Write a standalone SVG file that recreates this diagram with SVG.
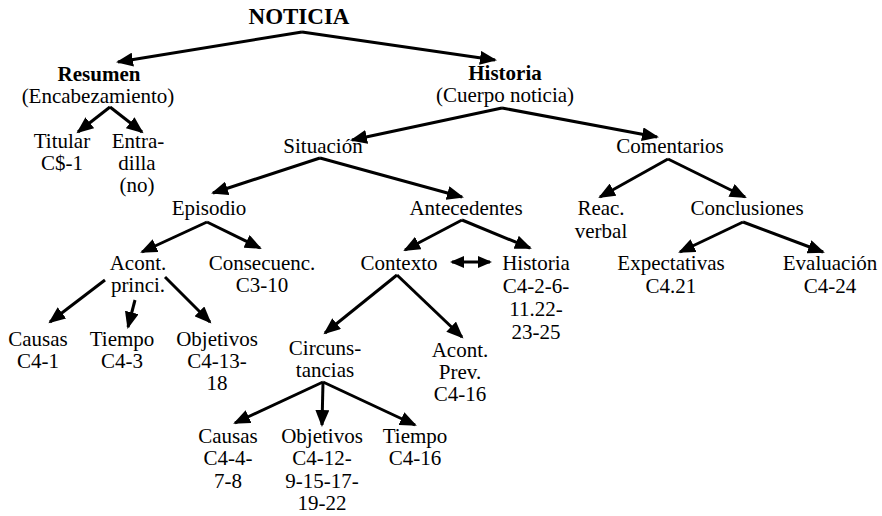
<svg xmlns="http://www.w3.org/2000/svg" width="882" height="516" viewBox="0 0 882 516" font-family="Liberation Serif">
<style>
.n{font-family:'Liberation Serif';font-size:21px;fill:#000;text-anchor:middle}
.b{font-weight:bold}
.t{font-size:23px}
.c line{stroke:#000;stroke-width:3;marker-end:url(#ah)}
.c line.d{marker-start:url(#ah2);marker-end:url(#ah2)}
</style>
<defs>
<marker id="ah" markerUnits="userSpaceOnUse" markerWidth="18" markerHeight="14" refX="15" refY="7" orient="auto-start-reverse" viewBox="0 0 18 14">
<path d="M0,0 L17,7 L0,14 z" fill="#000"/>
</marker>
<marker id="ah2" markerUnits="userSpaceOnUse" markerWidth="14" markerHeight="12" refX="12" refY="6" orient="auto-start-reverse" viewBox="0 0 14 12">
<path d="M0,0 L14,6 L0,12 z" fill="#000"/>
</marker>
</defs>
<rect width="882" height="516" fill="#fff"/>
<g id="connectors" class="c">
<line x1="302" y1="32" x2="118" y2="62"/>
<line x1="302" y1="32" x2="495" y2="60"/>
<line x1="110" y1="107" x2="78" y2="132"/>
<line x1="110" y1="107" x2="142" y2="132"/>
<line x1="502" y1="108" x2="352" y2="140"/>
<line x1="502" y1="108" x2="657" y2="137"/>
<line x1="320" y1="158" x2="213" y2="193"/>
<line x1="320" y1="158" x2="462" y2="197"/>
<line x1="668" y1="159" x2="600" y2="197"/>
<line x1="668" y1="159" x2="745" y2="197"/>
<line x1="207" y1="222" x2="142" y2="252"/>
<line x1="207" y1="222" x2="260" y2="248"/>
<line x1="462" y1="220" x2="405" y2="250"/>
<line x1="462" y1="220" x2="530" y2="248"/>
<line x1="743" y1="222" x2="680" y2="252"/>
<line x1="743" y1="222" x2="823" y2="252"/>
<line class="d" x1="452" y1="262" x2="490" y2="262"/>
<line x1="105" y1="280" x2="50" y2="322"/>
<line x1="135" y1="300" x2="128" y2="327"/>
<line x1="165" y1="277" x2="210" y2="322"/>
<line x1="397" y1="275" x2="325" y2="333"/>
<line x1="397" y1="275" x2="462" y2="337"/>
<line x1="323" y1="382" x2="235" y2="423"/>
<line x1="323" y1="382" x2="322" y2="425"/>
<line x1="323" y1="382" x2="415" y2="425"/>
</g>
<g id="noticia"><text class="n b t" x="299" y="24">NOTICIA</text></g>
<g id="resumen"><text class="n b" x="99" y="81">Resumen</text><text class="n" x="98" y="103">(Encabezamiento)</text></g>
<g id="historia"><text class="n b" x="505" y="80">Historia</text><text class="n" x="505" y="102">(Cuerpo noticia)</text></g>
<g id="titular"><text class="n" x="62" y="148">Titular</text><text class="n" x="62" y="170">C$-1</text></g>
<g id="entradilla"><text class="n" x="138" y="148">Entra-</text><text class="n" x="137" y="170">dilla</text><text class="n" x="137" y="192">(no)</text></g>
<g id="situacion"><text class="n" x="323" y="153">Situación</text></g>
<g id="comentarios"><text class="n" x="670" y="153">Comentarios</text></g>
<g id="episodio"><text class="n" x="209" y="215">Episodio</text></g>
<g id="antecedentes"><text class="n" x="466" y="215">Antecedentes</text></g>
<g id="reac"><text class="n" x="601" y="215">Reac.</text><text class="n" x="601" y="238">verbal</text></g>
<g id="conclusiones"><text class="n" x="747" y="215">Conclusiones</text></g>
<g id="acont"><text class="n" x="138" y="270">Acont.</text><text class="n" x="138" y="292">princi.</text></g>
<g id="consecuenc"><text class="n" x="262" y="270">Consecuenc.</text><text class="n" x="262" y="292">C3-10</text></g>
<g id="contexto"><text class="n" x="399" y="270">Contexto</text></g>
<g id="historia2"><text class="n" x="536" y="270">Historia</text><text class="n" x="536" y="293">C4-2-6-</text><text class="n" x="536" y="316">11.22-</text><text class="n" x="536" y="339">23-25</text></g>
<g id="expectativas"><text class="n" x="671" y="270">Expectativas</text><text class="n" x="671" y="293">C4.21</text></g>
<g id="evaluacion"><text class="n" x="830" y="270">Evaluación</text><text class="n" x="830" y="293">C4-24</text></g>
<g id="causas1"><text class="n" x="38" y="346">Causas</text><text class="n" x="38" y="368">C4-1</text></g>
<g id="tiempo1"><text class="n" x="122" y="346">Tiempo</text><text class="n" x="122" y="368">C4-3</text></g>
<g id="objetivos1"><text class="n" x="217" y="346">Objetivos</text><text class="n" x="217" y="368">C4-13-</text><text class="n" x="217" y="390">18</text></g>
<g id="circunstancias"><text class="n" x="325" y="355">Circuns-</text><text class="n" x="325" y="377">tancias</text></g>
<g id="acontprev"><text class="n" x="460" y="357">Acont.</text><text class="n" x="460" y="379">Prev.</text><text class="n" x="460" y="401">C4-16</text></g>
<g id="causas2"><text class="n" x="228" y="443">Causas</text><text class="n" x="228" y="465">C4-4-</text><text class="n" x="228" y="488">7-8</text></g>
<g id="objetivos2"><text class="n" x="322" y="443">Objetivos</text><text class="n" x="322" y="465">C4-12-</text><text class="n" x="322" y="488">9-15-17-</text><text class="n" x="322" y="510">19-22</text></g>
<g id="tiempo2"><text class="n" x="415" y="443">Tiempo</text><text class="n" x="415" y="465">C4-16</text></g>
</svg>
